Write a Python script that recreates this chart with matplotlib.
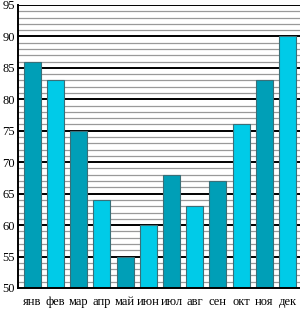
import numpy as np
import matplotlib.pyplot as plt

months = ['янв', 'фев', 'мар', 'апр', 'май', 'июн', 'июл', 'авг', 'сен', 'окт', 'ноя', 'дек']
values = [86, 83, 75, 64, 55, 60, 68, 63, 67, 76, 83, 90]
colors = ['#009fb7', '#00cbe8']

fig = plt.figure(figsize=(3.0, 3.12), dpi=100)
ax = fig.add_axes([0.06, 0.077, 0.94, 0.907])

x = np.arange(len(months))
bar_colors = [colors[i % 2] for i in range(len(months))]

# grid: thin gray every 1, black every 5
for v in range(51, 96):
    if v % 5:
        ax.axhline(v, color='#999999', lw=0.9, zorder=0)
for v in range(55, 96, 5):
    ax.axhline(v, color='black', lw=1.4, zorder=1)

ax.bar(x, [v - 50 for v in values], bottom=50, width=0.73, color=bar_colors,
       edgecolor='#3a6f78', linewidth=0.8, zorder=2)

ax.set_xlim(-0.62, 11.54)
ax.set_ylim(50, 95)
ax.set_yticks(range(50, 96, 5))
ax.set_xticks(x)
ax.set_xticklabels(months)
ax.tick_params(axis='x', length=0, labelsize=9, pad=6)
ax.tick_params(axis='y', length=0, labelsize=9, pad=2)
for lab in ax.get_xticklabels() + ax.get_yticklabels():
    lab.set_family('Liberation Serif')

for s in ['top', 'right']:
    ax.spines[s].set_visible(False)
ax.spines['left'].set_linewidth(1.4)
ax.spines['bottom'].set_linewidth(1.4)

fig.savefig('out.png', dpi=100)
